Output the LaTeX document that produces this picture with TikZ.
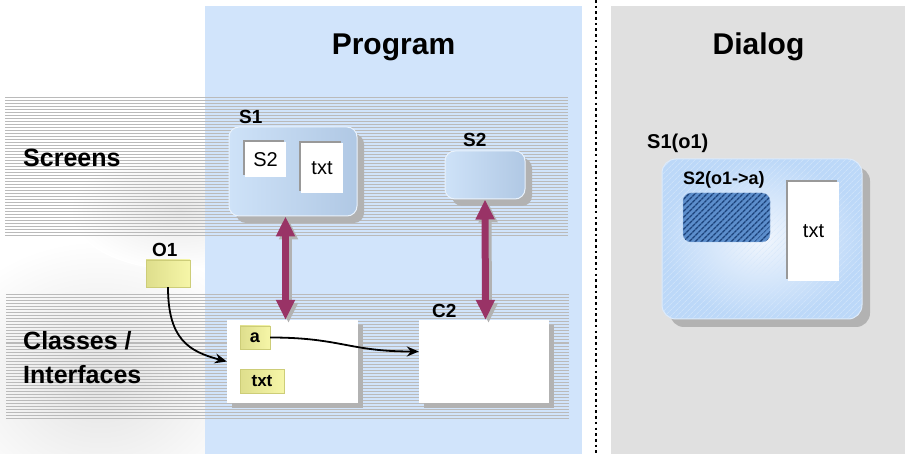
\documentclass[tikz,border=0pt]{standalone}
\usepackage{fontspec}
\setmainfont{Liberation Sans}
\usetikzlibrary{arrows.meta,shadows,patterns.meta}
\definecolor{progblue}{RGB}{209,228,251}
\definecolor{dlggray}{RGB}{224,224,224}
\definecolor{stripegray}{RGB}{186,186,186}
\definecolor{linkred}{RGB}{153,51,102}
\definecolor{objyellow}{RGB}{246,246,168}
\definecolor{objdark}{RGB}{222,222,140}
\definecolor{objline}{RGB}{205,205,120}
\definecolor{scrlight}{RGB}{206,226,248}
\definecolor{scrdark}{RGB}{176,200,228}
\definecolor{dlginner}{RGB}{241,246,253}
\definecolor{dlgouter}{RGB}{188,216,248}
\definecolor{hatchblue}{RGB}{92,142,204}
\definecolor{hatchdark}{RGB}{28,66,122}
\tikzset{
  title/.style={font=\fontsize{30pt}{36pt}\selectfont\bfseries, anchor=base},
  rowlabel/.style={font=\fontsize{25pt}{34pt}\selectfont\bfseries, align=left, anchor=west, inner sep=0pt},
  tag/.style={font=\fontsize{19pt}{22pt}\selectfont\bfseries, anchor=base west, inner sep=0pt},
  screen/.style={draw=white!55!scrlight, line width=1pt, rounded corners=10pt, left color=scrlight, right color=scrdark,
    drop shadow={shadow xshift=7pt, shadow yshift=-7pt, fill=black!30, opacity=1}},
  field/.style={fill=white, font=\fontsize{20pt}{24pt}\selectfont,
    drop shadow={shadow xshift=-2pt, shadow yshift=2pt, fill=black!40, opacity=1}},
  classbox/.style={fill=white, drop shadow={shadow xshift=5pt, shadow yshift=-5pt, fill=black!30, opacity=1}},
  attr/.style={draw=objline, left color=objdark, right color=objyellow, font=\fontsize{17pt}{20pt}\selectfont\bfseries, inner sep=0pt},
  dlgscreen/.style={draw=white!50!dlgouter, line width=1pt, rounded corners=14pt, inner color=dlginner, outer color=dlgouter,
    drop shadow={shadow xshift=8pt, shadow yshift=-8pt, fill=black!30, opacity=1},
    postaction={pattern={Lines[angle=45,distance=4pt,line width=.5pt]}, pattern color=dlgouter!60!white}},
  hatchbox/.style={draw=hatchblue!70!white, rounded corners=8pt, fill=hatchblue,
    postaction={pattern={Lines[angle=45,distance=4pt,line width=1.6pt]}, pattern color=hatchdark}},
  link/.style={linkred, line width=7pt, {Triangle[width=18pt,length=20pt]}-{Triangle[width=18pt,length=20pt]}},
  linkshadow/.style={link, black!30, transform canvas={xshift=3pt, yshift=-3pt}},
  flow/.style={line width=1.8pt, -{Stealth[length=12pt,width=10pt]}},
  stripe/.style={stripegray, line width=1pt},
  dotline/.style={line width=2.6pt, dash pattern=on 2.6pt off 3.1pt},
}
\begin{document}
\begin{tikzpicture}[x=1pt,y=-1pt]
\newcommand\stripeband[4]{%
\foreach \k in {0,...,#4} {\draw [stripe] (#1, #3+3*\k) -- (#2, #3+3*\k);}%
}
\useasboundingbox (0,0) rectangle (905,454);
\fill [white] (0,0) rectangle (905,454);

% faint photo behind the left column
\shade [inner color=black!11, outer color=white] (100,380) ellipse (170pt and 140pt);
\shade [inner color=black!9, outer color=white] (180,210) ellipse (110pt and 60pt);

% panels
\fill [progblue] (205,6) rectangle (582,454);
\fill [dlggray] (611,6) rectangle (905,454);
\draw [dotline] (596,0) -- (596,454);

\node (progtitle) at (393.5,55) [title] {Program};
\node (dlgtitle) at (758.5,55) [title] {Dialog};

% striped rows
\stripeband{5}{568}{98}{46}
\stripeband{6}{569}{295}{41}

\node (screens) at (23,158) [rowlabel] {Screens};
\node (classes) at (23,358) [rowlabel] {Classes /\\Interfaces};

% screens
\node (S1) at (293,171.5) [screen, minimum width=128, minimum height=89] {};
\node (S1tag) at (239,124) [tag] {S1};
\node (S1sub) at (265.5,159.5) [field, minimum width=41, minimum height=35] {S2};
\node (S1txt) at (322,168) [field, minimum width=42, minimum height=50] {txt};

\node (S2) at (485,175) [screen, minimum width=80, minimum height=48] {};
\node (S2tag) at (463,147) [tag] {S2};

% objects and classes
\node (O1) at (168,273.5) [attr, minimum width=44, minimum height=27] {};
\node (O1tag) at (152,257) [tag] {O1};

\node (C1) at (292.5,361.5) [classbox, minimum width=131, minimum height=83] {};
\node (a) at (255,337.5) [attr, minimum width=30, minimum height=23, font=\fontsize{18pt}{20pt}\selectfont\bfseries] {a};
\node (C1txt) at (262,381) [attr, minimum width=44, minimum height=24] {txt};

\node (C2) at (484,361.5) [classbox, minimum width=130, minimum height=83] {};
\node (C2tag) at (432,318) [tag] {C2};

% links screen <-> class
\draw [linkshadow] ([xshift=-7.5pt]S1.south) -- ([xshift=-7pt]C1.north);
\draw [linkshadow] (S2.south) -- ([xshift=1.5pt]C2.north);
\draw [link] ([xshift=-7.5pt]S1.south) -- ([xshift=-7pt]C1.north);
\draw [link] (S2.south) -- ([xshift=1.5pt]C2.north);

\draw [flow] (O1.south) .. controls +(0,52) and +(-38,-10) .. (C1.west);
\draw [flow] (a.east) .. controls +(70,0) and +(-70,0) .. ([yshift=10pt]C2.west);

% dialog
\node (D1) at (762,239) [dlgscreen, minimum width=200, minimum height=160] {};
\node (D1tag) at (647,149) [tag, font=\fontsize{20pt}{24pt}\selectfont\bfseries] {S1(o1)};
\node (D2) at (726.5,217.5) [hatchbox, minimum width=87, minimum height=49] {};
\node (D2tag) at (683,185) [tag, font=\fontsize{18pt}{22pt}\selectfont\bfseries] {S2(o1->a)};
\node (D1txt) at (813.5,231.5) [field, minimum width=51, minimum height=99] {txt};
\end{tikzpicture}
\end{document}
